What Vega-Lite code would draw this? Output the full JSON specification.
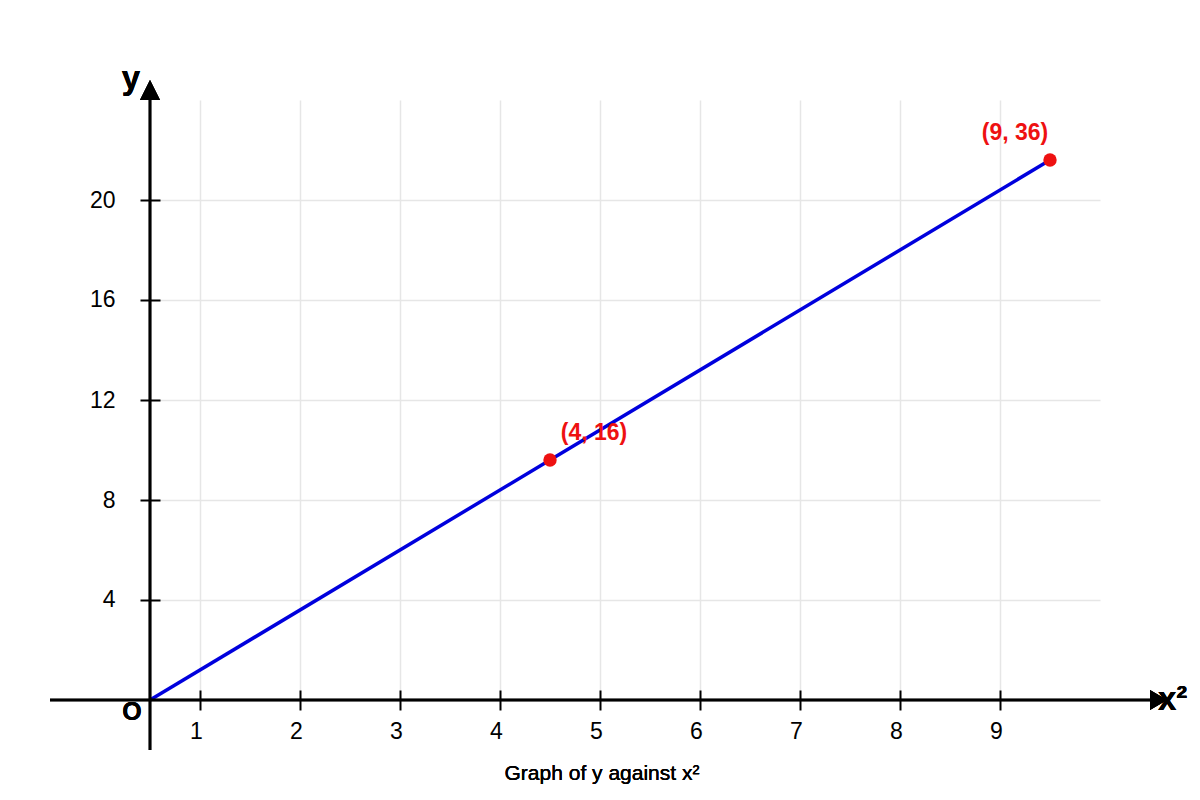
{
  "$schema": "https://vega.github.io/schema/vega-lite/v6.json",
  "width": 950,
  "height": 600,
  "autosize": "none",
  "padding": {"left": 150, "top": 100, "right": 100, "bottom": 100},
  "background": "white",
  "config": {"view": {"stroke": null}, "font": "Liberation Sans"},
  "data": {
    "values": [
      {"xsq": 0, "y": 0, "label": ""},
      {"xsq": 4, "y": 16, "label": "(4, 16)"},
      {"xsq": 9, "y": 36, "label": "(9, 36)"}
    ]
  },
  "layer": [
    {
      "mark": {"type": "line", "color": "#0000dd", "strokeWidth": 3.5},
      "encoding": {
        "x": {
          "field": "xsq",
          "type": "quantitative",
          "scale": {"domain": [0, 9.5], "nice": false, "zero": false},
          "axis": {
            "values": [0.5, 1.5, 2.5, 3.5, 4.5, 5.5, 6.5, 7.5, 8.5],
            "labelExpr": "format(datum.value + 0.5, '.0f')",
            "title": null,
            "domain": false,
            "grid": true,
            "gridColor": "#e6e6e6",
            "gridWidth": 1.5,
            "ticks": true,
            "tickSize": 20,
            "tickWidth": 2,
            "tickColor": "black",
            "offset": -10,
            "labelFontSize": 23,
            "labelColor": "black",
            "labelPadding": 10,
            "labelOffset": -4,
            "labelFlush": false,
            "labelOverlap": false
          }
        },
        "y": {
          "field": "y",
          "type": "quantitative",
          "scale": {"domain": [0, 40], "nice": false, "zero": false},
          "axis": {
            "values": [6.66667, 13.33333, 20, 26.66667, 33.33333],
            "labelExpr": "format(datum.value * 0.6, '.0f')",
            "title": null,
            "domain": false,
            "grid": true,
            "gridColor": "#e6e6e6",
            "gridWidth": 1.5,
            "ticks": true,
            "tickSize": 20,
            "tickWidth": 2,
            "tickColor": "black",
            "offset": -10,
            "labelFontSize": 23,
            "labelColor": "black",
            "labelPadding": 25,
            "labelFlush": false,
            "labelOverlap": false
          }
        }
      }
    },
    {
      "mark": {"type": "rule", "color": "black", "strokeWidth": 2.5},
      "encoding": {
        "x": {"datum": -1},
        "x2": {"datum": 10.0},
        "y": {"datum": 0}
      }
    },
    {
      "mark": {"type": "rule", "color": "black", "strokeWidth": 2.5},
      "encoding": {
        "x": {"datum": 0},
        "y": {"datum": -3.3333},
        "y2": {"datum": 40}
      }
    },
    {
      "mark": {"type": "point", "shape": "M-0.85,-1L0.85,0L-0.85,1Z", "size": 400, "filled": true, "color": "black", "opacity": 1},
      "encoding": {
        "x": {"datum": 10.085},
        "y": {"datum": 0}
      }
    },
    {
      "mark": {"type": "point", "shape": "M-1,1L1,1L0,-1Z", "size": 400, "filled": true, "color": "black", "opacity": 1},
      "encoding": {
        "x": {"datum": 0},
        "y": {"datum": 40.6667}
      }
    },
    {
      "transform": [{"filter": "datum.xsq > 0"}],
      "mark": {"type": "circle", "size": 180, "color": "#ee1111", "opacity": 1},
      "encoding": {
        "x": {"field": "xsq", "type": "quantitative"},
        "y": {"field": "y", "type": "quantitative"}
      }
    },
    {
      "transform": [{"filter": "datum.xsq == 4"}],
      "mark": {"type": "text", "color": "#ee1111", "fontSize": 23, "fontWeight": "bold", "align": "center", "baseline": "middle", "dx": 44, "dy": -27},
      "encoding": {
        "x": {"field": "xsq", "type": "quantitative"},
        "y": {"field": "y", "type": "quantitative"},
        "text": {"field": "label"}
      }
    },
    {
      "transform": [{"filter": "datum.xsq == 9"}],
      "mark": {"type": "text", "color": "#ee1111", "fontSize": 23, "fontWeight": "bold", "align": "center", "baseline": "middle", "dx": -35, "dy": -27.5},
      "encoding": {
        "x": {"field": "xsq", "type": "quantitative"},
        "y": {"field": "y", "type": "quantitative"},
        "text": {"field": "label"}
      }
    },
    {
      "mark": {"type": "text", "text": "O", "fontSize": 25, "fontWeight": "bold", "color": "black", "align": "center", "baseline": "middle"},
      "encoding": {
        "x": {"datum": -0.18},
        "y": {"datum": -0.8}
      }
    },
    {
      "mark": {"type": "text", "text": "y", "fontSize": 33, "fontWeight": "bold", "color": "black", "align": "center", "baseline": "alphabetic"},
      "encoding": {
        "x": {"datum": -0.19},
        "y": {"datum": 40.73}
      }
    },
    {
      "mark": {"type": "text", "text": "x²", "fontSize": 33, "fontWeight": "bold", "color": "black", "align": "left", "baseline": "alphabetic"},
      "encoding": {
        "x": {"datum": 10.08},
        "y": {"datum": -0.667}
      }
    },
    {
      "mark": {"type": "text", "text": "Graph of y against x²", "fontSize": 21, "color": "black", "align": "center", "baseline": "middle"},
      "encoding": {
        "x": {"datum": 4.52},
        "y": {"datum": -4.9}
      }
    }
  ]
}
